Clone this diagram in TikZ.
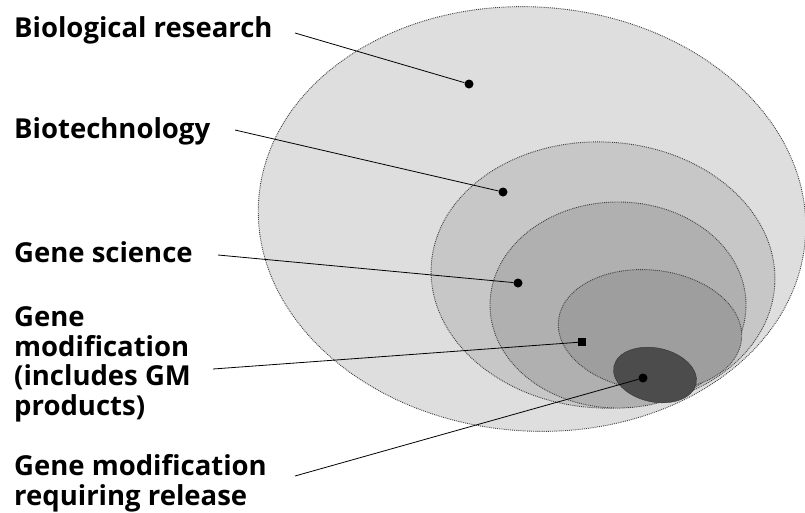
\documentclass[tikz,border=0pt]{standalone}
\usepackage{fontspec}
\setmainfont{Open Sans}
\tikzset{
  lbl/.style={font=\bfseries\fontsize{27.5}{29.5}\selectfont, anchor=base west, inner sep=0pt, align=left},
  zone/.style={draw=black!75, line width=0.9pt, densely dotted},
  spot/.style={circle, fill=black, inner sep=0pt, minimum size=9pt},
  lead/.style={line width=0.8pt}
}
\begin{document}
\begin{tikzpicture}[x=1pt,y=-1pt]
\useasboundingbox (0,0) rectangle (805,512);
% nested areas
\draw[zone, fill=black!13, rotate around={-4:(532,219)}] (532,219) ellipse [x radius=274, y radius=212];
\draw[zone, fill=black!22, rotate around={-3:(603,275)}] (603,275) ellipse [x radius=172, y radius=133];
\draw[zone, fill=black!31] (618,305) ellipse [x radius=128, y radius=103];
\draw[zone, fill=black!38, rotate around={-6:(650,330)}] (650,330) ellipse [x radius=92, y radius=60];
\draw[fill=black!70, draw=black!80, rotate around={-12:(655,375)}] (655,375) ellipse [x radius=42, y radius=27];
% labels
\node[lbl] (biores) at (14,37) {Biological research};
\node[lbl] (biotech) at (14,138) {Biotechnology};
\node[lbl] (genesci) at (14,262) {Gene science};
\node[lbl] (genemod) at (14,415) {Gene\\modification\\(includes GM\\products)};
\node[lbl] (release) at (14,505) {Gene modification\\requiring release};
% dots
\node[spot] (d1) at (469,84) {};
\node[spot] (d2) at (503,192) {};
\node[spot] (d3) at (518,283) {};
\node[spot, rectangle, minimum size=8pt] (d4) at (582,342) {};
\node[spot] (d5) at (643,378) {};
\coordinate (s1) at (295,33);
\coordinate (s2) at (235,130);
\coordinate (s3) at (218,255);
\coordinate (s4) at (213,369);
\coordinate (s5) at (295,476);
\draw[lead] (s1) -- (d1);
\draw[lead] (s2) -- (d2);
\draw[lead] (s3) -- (d3);
\draw[lead] (s4) -- (d4);
\draw[lead] (s5) -- (d5);
\end{tikzpicture}
\end{document}
